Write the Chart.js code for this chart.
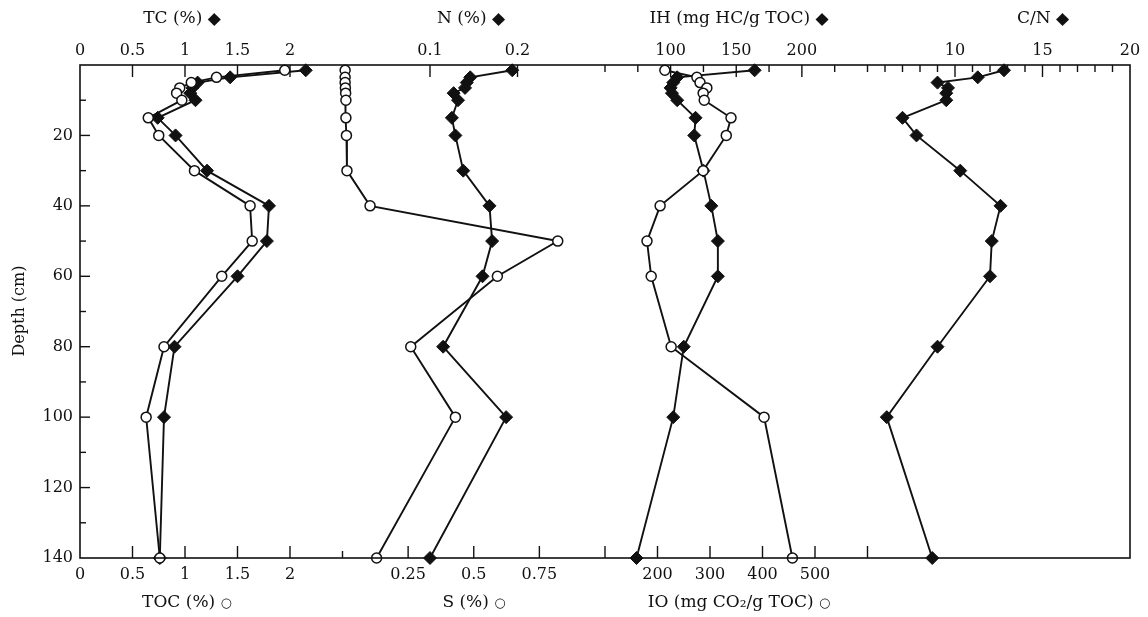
<!DOCTYPE html>
<html>
<head>
<meta charset="utf-8">
<title>Depth profiles</title>
<script src="https://cdn.jsdelivr.net/npm/chart.js@4.4.1/dist/chart.umd.min.js"></script>
<style>
  html, body { margin: 0; padding: 0; background: #fff; }
  #wrap { width: 1148px; height: 617px; }
</style>
</head>
<body>
<div id="wrap"><canvas id="chart"></canvas></div>
<script>

    // sampling depths (cm)
    var depth = [1.5, 3.5, 5, 6.5, 8, 10, 15, 20, 30, 40, 50, 60, 80, 100, 140];

    // series
    var tc  = [2.15, 1.43, 1.12, 1.07, 1.05, 1.10, 0.74, 0.91, 1.21, 1.80, 1.78, 1.50, 0.90, 0.80, 0.76];
    var toc = [1.95, 1.30, 1.06, 0.95, 0.92, 0.97, 0.65, 0.75, 1.09, 1.62, 1.64, 1.35, 0.80, 0.63, 0.76];
    var n   = [0.194, 0.146, 0.142, 0.140, 0.127, 0.132, 0.125, 0.129, 0.138, 0.168, 0.171, 0.160, 0.115, 0.187, 0.100];
    var s   = [0.010, 0.010, 0.010, 0.011, 0.012, 0.013, 0.013, 0.015, 0.017, 0.105, 0.82, 0.59, 0.26, 0.43, 0.13];
    var ih  = [164, 105, 102, 100, 101, 105, 119, 118, 125, 131, 136, 136, 110, 102, 74];
    var io  = [214, 275, 281, 294, 287, 289, 340, 331, 287, 205, 180, 188, 226, 403, 457];
    var cn  = [12.8, 11.3, 9.0, 9.6, 9.5, 9.5, 7.0, 7.8, 10.3, 12.6, 12.1, 12.0, 9.0, 6.1, 8.7];

    // tick labels
    var depthLabels = [20, 40, 60, 80, 100, 120, 140];
    var tcLabels  = [0, 0.5, 1, 1.5, 2];
    var nLabels   = [0.1, 0.2];
    var ihLabels  = [100, 150, 200];
    var cnLabels  = [10, 15, 20];
    var tocLabels = [0, 0.5, 1, 1.5, 2];
    var sLabels   = [0.25, 0.5, 0.75];
    var ioLabels  = [200, 300, 400, 500];

    // tick marks (long / short), drawn inward
    var marks = {
        y:    { major: [20, 40, 60, 80, 100, 120], minor: [10, 30, 50, 70, 90, 110, 130] },
        xTC:  { major: [0.5, 1, 1.5, 2], minor: [] },
        xN:   { major: [0.1, 0.2], minor: [] },
        xIH:  { major: [100, 150, 200], minor: [50, 75, 125, 175, 225] },
        xCN:  { major: [10, 15], minor: [5, 6, 7, 8, 9, 11, 12, 13, 14, 16, 17, 18, 19] },
        xTOC: { major: [0.5, 1, 1.5, 2], minor: [2.5] },
        xS:   { major: [0.25, 0.5, 0.75, 1], minor: [] },
        xIO:  { major: [200, 300, 400, 500, 600], minor: [] }
    };

    var serif = "'DejaVu Serif', 'Liberation Serif', serif";
    var ink = '#111';

    function pts(xs) {
        return xs.map(function (v, i) { return { x: v, y: depth[i] }; });
    }

    function openSeries(xs, axis) {
        return {
            data: pts(xs), xAxisID: axis, yAxisID: 'y', showLine: true, clip: false,
            borderColor: ink, borderWidth: 1.9,
            pointStyle: 'circle', pointRadius: 5, pointBorderWidth: 1.5,
            pointBackgroundColor: '#fff', pointBorderColor: ink
        };
    }

    function fullSeries(xs, axis) {
        return {
            data: pts(xs), xAxisID: axis, yAxisID: 'y', showLine: true, clip: false,
            borderColor: ink, borderWidth: 1.9,
            pointStyle: 'rectRot', pointRadius: 6.5, pointBorderWidth: 1,
            pointBackgroundColor: ink, pointBorderColor: ink
        };
    }

    function xAxis(pos, min, max, labels, weight) {
        return {
            type: 'linear', axis: 'x', position: pos, stack: pos, stackWeight: weight || 1,
            min: min, max: max,
            afterFit: function (sc) { sc.height = pos === 'top' ? 65 : 59; },
            afterBuildTicks: function (sc) { sc.ticks = labels.map(function (v) { return { value: v }; }); },
            grid: { display: false, drawTicks: false },
            border: { display: false },
            ticks: {
                autoSkip: false, maxRotation: 0, color: ink, padding: pos === 'top' ? 5 : 7,
                font: { family: serif, size: 16 },
                callback: function (v) { return String(v); }
            }
        };
    }

    // frame, inward tick marks and axis titles
    var decor = {
        id: 'decor',
        afterDraw: function (chart) {
            var ctx = chart.ctx, a = chart.chartArea;
            ctx.save();
            ctx.strokeStyle = ink;
            ctx.lineWidth = 1.6;
            ctx.strokeRect(a.left, a.top, a.right - a.left, a.bottom - a.top);

            ctx.lineWidth = 1.4;
            Object.keys(marks).forEach(function (id) {
                var sc = chart.scales[id];
                [['major', 12], ['minor', 7]].forEach(function (kind) {
                    marks[id][kind[0]].forEach(function (v) {
                        var p = sc.getPixelForValue(v);
                        var len = kind[1];
                        ctx.beginPath();
                        if (id === 'y') {
                            len = kind[0] === 'major' ? 10 : 6;
                            ctx.moveTo(a.left, p); ctx.lineTo(a.left + len, p);
                        } else if (sc.position === 'top') {
                            ctx.moveTo(p, a.top); ctx.lineTo(p, a.top + len);
                        } else {
                            ctx.moveTo(p, a.bottom); ctx.lineTo(p, a.bottom - len);
                        }
                        ctx.stroke();
                    });
                });
            });

            ctx.fillStyle = ink;
            ctx.textBaseline = 'middle';
            function title(txt, sym, cx, cy, symSize) {
                ctx.font = '17px ' + serif;
                var w1 = ctx.measureText(txt + ' ').width;
                ctx.font = symSize + 'px "DejaVu Sans"';
                var w2 = ctx.measureText(sym).width;
                var x0 = cx - (w1 + w2) / 2;
                ctx.textAlign = 'left';
                ctx.font = '17px ' + serif;
                ctx.fillText(txt, x0, cy);
                ctx.font = symSize + 'px "DejaVu Sans"';
                ctx.fillText(sym, x0 + w1, cy + 1);
            }
            title('TC (%)', '\u25C6', 182, 19, 17);
            title('N (%)', '\u25C6', 471, 19, 17);
            title('IH (mg HC/g TOC)', '\u25C6', 739, 19, 17);
            title('C/N', '\u25C6', 1043, 19, 17);
            title('TOC (%)', '\u25CB', 187, 603, 13);
            title('S (%)', '\u25CB', 474, 603, 13);
            title('IO (mg CO\u2082/g TOC)', '\u25CB', 739, 603, 13);

            ctx.translate(20, 311);
            ctx.rotate(-Math.PI / 2);
            ctx.textAlign = 'center';
            ctx.font = '16px ' + serif;
            ctx.fillText('Depth (cm)', 0, 0);
            ctx.restore();
        }
    };

    var ctx = document.getElementById('chart');
    var myChart = new Chart(ctx, {
        type: 'scatter',
        data: {
            datasets: [
                openSeries(toc, 'xTOC'),
                fullSeries(tc, 'xTC'),
                openSeries(s, 'xS'),
                fullSeries(n, 'xN'),
                openSeries(io, 'xIO'),
                fullSeries(ih, 'xIH'),
                fullSeries(cn, 'xCN')
            ]
        },
        options: {
            responsive: true,
            maintainAspectRatio: false,
            animation: false,
            layout: { padding: { left: 0, right: 18, top: 0, bottom: 0 } },
            plugins: { legend: { display: false }, tooltip: { enabled: false } },
            scales: {
                y: {
                    type: 'linear', position: 'left', reverse: true, min: 0, max: 140,
                    afterFit: function (sc) { sc.width = 80; },
                    afterBuildTicks: function (sc) { sc.ticks = depthLabels.map(function (v) { return { value: v }; }); },
                    grid: { display: false, drawTicks: false },
                    border: { display: false },
                    ticks: { color: ink, padding: 7, font: { family: serif, size: 16 } }
                },
                // top axes are laid out right to left, so list them reversed
                xCN:  xAxis('top', 5, 20, cnLabels),
                xIH:  xAxis('top', 50, 250, ihLabels),
                xN:   xAxis('top', 0, 0.3, nLabels),
                xTC:  xAxis('top', 0, 2.5, tcLabels),
                xTOC: xAxis('bottom', 0, 2.5, tocLabels),
                xS:   xAxis('bottom', 0, 1, sLabels),
                xIO:  xAxis('bottom', 100, 1100, ioLabels, 2)
            }
        },
        plugins: [decor]
    });

</script>
</body>
</html>
